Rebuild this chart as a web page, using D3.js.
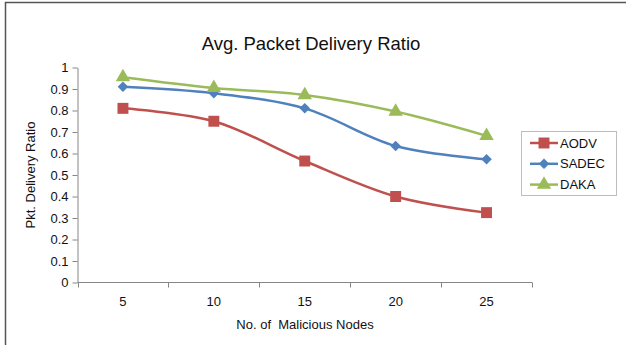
<!DOCTYPE html>
<html>
<head>
<meta charset="utf-8">
<script src="https://cdn.jsdelivr.net/npm/d3@7"></script>
<style>
  html, body { margin: 0; padding: 0; background: #fff; }
  svg { display: block; font-family: "Liberation Sans", Arial, sans-serif; }
</style>
</head>
<body>
<svg id="chart" width="626" height="345"></svg>
<script>
// Malicious node counts on the x axis
const categories = ["5", "10", "15", "20", "25"];
// Packet delivery ratio per protocol
const aodv  = [0.81, 0.75, 0.565, 0.40, 0.325];
const sadec = [0.91, 0.88, 0.81, 0.635, 0.573];
const daka  = [0.955, 0.905, 0.872, 0.795, 0.682];
const seriesNames = ["AODV", "SADEC", "DAKA"];
const yTicks = [0, 0.1, 0.2, 0.3, 0.4, 0.5, 0.6, 0.7, 0.8, 0.9, 1];

const colors = { AODV: "#C0504D", SADEC: "#4F81BD", DAKA: "#9BBB59" };
const seriesData = { AODV: aodv, SADEC: sadec, DAKA: daka };

const svg = d3.select("#chart");
const axisColor = "#868686";

// outer frame
svg.append("rect")
  .attr("x", 5.5).attr("y", 2.5)
  .attr("width", 640).attr("height", 360)
  .attr("fill", "none").attr("stroke", "#555").attr("stroke-width", 1.5);

const plot = { left: 77.5, right: 532, top: 67.5, bottom: 282.5 };

const x = d3.scaleBand().domain(categories).range([plot.left, plot.right]);
const y = d3.scaleLinear().domain([0, 1]).range([plot.bottom, plot.top]);

// title
svg.append("text")
  .attr("x", 311).attr("y", 50)
  .attr("text-anchor", "middle")
  .attr("font-size", 18.5).attr("fill", "#111")
  .text("Avg. Packet Delivery Ratio");

// y axis
const yAxis = svg.append("g").attr("transform", `translate(${plot.left},0)`)
  .call(d3.axisLeft(y).tickValues(yTicks).tickSize(5).tickSizeOuter(0)
    .tickFormat(d => d3.format("")(+d.toFixed(1))));
yAxis.select(".domain").attr("stroke", axisColor);
yAxis.selectAll(".tick line").attr("stroke", axisColor);
yAxis.selectAll(".tick text").attr("font-size", 13).attr("fill", "#111")
  .attr("font-family", "Liberation Sans, Arial, sans-serif").attr("x", -9);

// x axis with ticks at band boundaries
const xAxisG = svg.append("g").attr("transform", `translate(0,${plot.bottom})`);
xAxisG.append("line")
  .attr("x1", plot.left).attr("x2", plot.right)
  .attr("stroke", axisColor);
const boundaries = categories.map(c => x(c)).concat([x(categories[categories.length - 1]) + x.bandwidth()]);
xAxisG.selectAll("line.tk").data(boundaries).join("line")
  .attr("class", "tk")
  .attr("x1", d => Math.round(d) + 0.5).attr("x2", d => Math.round(d) + 0.5)
  .attr("y1", 0).attr("y2", 5)
  .attr("stroke", axisColor);
xAxisG.selectAll("text").data(categories).join("text")
  .attr("x", d => x(d) + x.bandwidth() / 2)
  .attr("y", 23)
  .attr("text-anchor", "middle")
  .attr("font-size", 13).attr("fill", "#111")
  .text(d => d);

// axis titles
svg.append("text")
  .attr("x", 305).attr("y", 329)
  .attr("text-anchor", "middle")
  .attr("font-size", 13).attr("fill", "#111")
  .style("white-space", "pre")
  .text("No. of  Malicious Nodes");
svg.append("text")
  .attr("transform", `translate(35,175) rotate(-90)`)
  .attr("text-anchor", "middle")
  .attr("font-size", 13).attr("fill", "#111")
  .text("Pkt. Delivery Ratio");

const cx = d => x(d) + x.bandwidth() / 2;
const line = d3.line()
  .x(d => cx(d.cat)).y(d => y(d.v))
  .curve(d3.curveCatmullRom.alpha(0.5));

const markerShape = {
  AODV: d3.symbol().type(d3.symbolSquare).size(120),
  SADEC: d3.symbol().type(d3.symbolDiamond2).size(70),
  DAKA: d3.symbol().type(d3.symbolTriangle).size(90)
};

seriesNames.forEach(name => {
  const pts = categories.map((c, i) => ({ cat: c, v: seriesData[name][i] }));
  svg.append("path")
    .attr("d", line(pts))
    .attr("fill", "none")
    .attr("stroke", colors[name])
    .attr("stroke-width", 2.5);
  svg.append("g").selectAll("path").data(pts).join("path")
    .attr("transform", d => `translate(${cx(d.cat)},${y(d.v)})`)
    .attr("d", markerShape[name]())
    .attr("fill", colors[name]);
});

// legend
const lg = svg.append("g");
lg.append("rect")
  .attr("x", 521.5).attr("y", 131.5)
  .attr("width", 95).attr("height", 64)
  .attr("fill", "#fff").attr("stroke", "#BDBDBD");
seriesNames.forEach((name, i) => {
  const ly = 143 + i * 20.8;
  lg.append("line")
    .attr("x1", 530).attr("x2", 558)
    .attr("y1", ly).attr("y2", ly)
    .attr("stroke", colors[name]).attr("stroke-width", 2.5);
  lg.append("path")
    .attr("transform", `translate(544,${ly})`)
    .attr("d", markerShape[name]())
    .attr("fill", colors[name]);
  lg.append("text")
    .attr("x", 560).attr("y", ly + 4.5)
    .attr("font-size", 13).attr("fill", "#111")
    .text(name);
});
</script>
</body>
</html>
